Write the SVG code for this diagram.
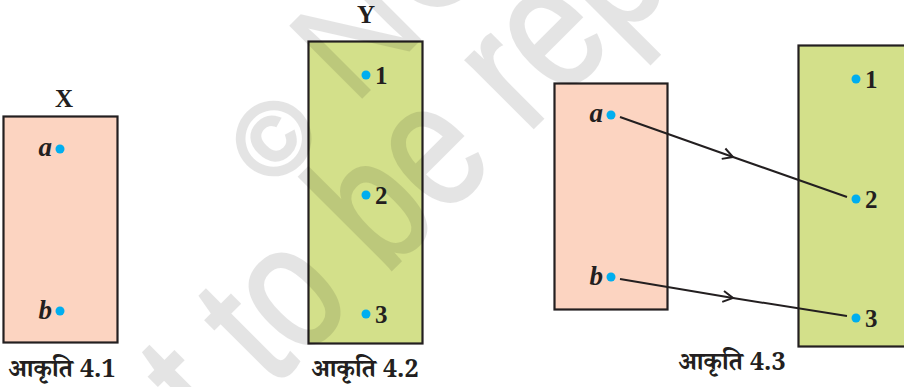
<svg xmlns="http://www.w3.org/2000/svg" width="904" height="387" viewBox="0 0 904 387">
  <defs>
    <style>
      .setA { fill: #fcd4c1; stroke: #231f20; stroke-width: 2.2; }
      .setB { fill: #d3e08a; stroke: #231f20; stroke-width: 2.2; }
      .pt { fill: #00aeef; }
      .lbl { font-family: "Liberation Serif", "Times New Roman", serif; font-weight: bold; font-size: 25px; fill: #231f20; }
      .var { font-family: "Liberation Serif", "Times New Roman", serif; font-weight: bold; font-style: italic; font-size: 27px; fill: #231f20; }
      .cap { font-family: "Noto Serif Devanagari", "Noto Sans Devanagari", "Lohit Devanagari", "Liberation Serif", serif; font-weight: bold; font-size: 25px; fill: #231f20; }
      .edge { fill: none; stroke: #231f20; stroke-width: 2; marker-mid: url(#chev); }
      .wm { font-family: "Liberation Sans", Arial, sans-serif; fill: #000; }
    </style>
    <marker id="chev" viewBox="-12 -7 14 14" markerWidth="14" markerHeight="14" refX="0" refY="0" orient="auto" markerUnits="userSpaceOnUse">
      <path d="M-10,-5.5 L0,0 L-10,5.5" fill="none" stroke="#231f20" stroke-width="2" stroke-linejoin="miter"/>
    </marker>
  </defs>

  <!-- Figure 4.1 : set X -->
  <g id="setX">
    <text class="lbl" x="64" y="107" text-anchor="middle">X</text>
    <rect class="setA" x="3.5" y="116.5" width="114" height="226"/>
    <circle class="pt" cx="60" cy="149" r="4.5"/>
    <text class="var" x="52" y="156" text-anchor="end">a</text>
    <circle class="pt" cx="60" cy="311" r="4.5"/>
    <text class="var" x="52" y="319" text-anchor="end">b</text>
    <text class="cap" x="62" y="377" text-anchor="middle">आकृति 4.1</text>
  </g>

  <!-- Figure 4.2 : set Y -->
  <g id="setY">
    <text class="lbl" x="366" y="23" text-anchor="middle">Y</text>
    <rect class="setB" x="308.5" y="41.5" width="114" height="302"/>
    <circle class="pt" cx="366" cy="75" r="4.5"/>
    <text class="lbl" x="375" y="84">1</text>
    <circle class="pt" cx="366" cy="195" r="4.5"/>
    <text class="lbl" x="375" y="204">2</text>
    <circle class="pt" cx="366" cy="314" r="4.5"/>
    <text class="lbl" x="375" y="323">3</text>
    <text class="cap" x="365" y="377" text-anchor="middle">आकृति 4.2</text>
  </g>

  <!-- Figure 4.3 : mapping from X to Y -->
  <g id="domain">
    <rect class="setA" x="554.5" y="83.5" width="113" height="226"/>
    <circle class="pt" cx="611" cy="115" r="4.5"/>
    <text class="var" x="603" y="122" text-anchor="end">a</text>
    <circle class="pt" cx="611" cy="277" r="4.5"/>
    <text class="var" x="603" y="285" text-anchor="end">b</text>
  </g>

  <g id="codomain">
    <rect class="setB" x="798.5" y="45.5" width="120" height="301"/>
    <circle class="pt" cx="856" cy="79" r="4.5"/>
    <text class="lbl" x="865" y="88">1</text>
    <circle class="pt" cx="856" cy="199" r="4.5"/>
    <text class="lbl" x="865" y="208">2</text>
    <circle class="pt" cx="856" cy="318" r="4.5"/>
    <text class="lbl" x="865" y="327">3</text>
  </g>

  <g id="connectors">
    <path class="edge" d="M620,117 L733,157 L847,197"/>
    <path class="edge" d="M620,279 L733,298 L847,316"/>
  </g>

  <text class="cap" x="732" y="370" text-anchor="middle">आकृति 4.3</text>

  <!-- publisher watermark, translucent diagonal lettering -->
  <g id="watermark" opacity="0.1">
    <text class="wm" font-size="150" transform="translate(272 189) rotate(-45)"><tspan font-size="100" stroke="#000" stroke-width="5">©</tspan> NCERT</text>
    <text class="wm" font-size="180" stroke="#000" stroke-width="3" transform="translate(102 559) rotate(-45) scale(0.8 1)">not to be republished</text>
  </g>
</svg>
